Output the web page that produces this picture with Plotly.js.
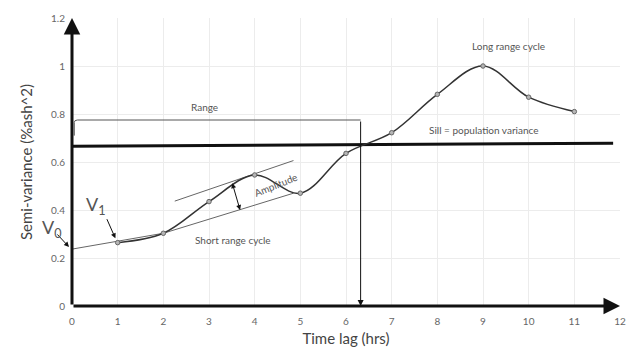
<!DOCTYPE html>
<html>
<head>
<meta charset="utf-8">
<script src="https://cdn.plot.ly/plotly-3.0.1.min.js"></script>
<style>html,body{margin:0;padding:0;background:#fff;}#chart{width:633px;height:357px;}</style>
</head>
<body>
<div id="chart"></div>
<script>
// Data
var timeLag = [1, 2, 3, 4, 5, 6, 7, 8, 9, 10, 11];
var semiVariance = [0.264, 0.303, 0.435, 0.546, 0.47, 0.636, 0.722, 0.882, 1.0, 0.87, 0.81];
var xTicks = [0, 1, 2, 3, 4, 5, 6, 7, 8, 9, 10, 11, 12];
var yTicks = [0, 0.2, 0.4, 0.6, 0.8, 1, 1.2];
var yTickLabels = ['0', '0.2', '0.4', '0.6', '0.8', '1', '1.2'];
var sillX = [0, 11.85];
var sillY = [0.666, 0.678];
var rangeLag = 6.32;
var shortCycleX = [0, 2, 4.85];
var shortCycleY = [0.237, 0.303, 0.47];
var upperEnvX = [2.25, 4.85];
var upperEnvY = [0.437, 0.606];

var FONT = 'Lato, "Open Sans", sans-serif';
var txt = '#555';

var traces = [
  {x: shortCycleX, y: shortCycleY, mode: 'lines', line: {color: '#666', width: 1}, hoverinfo: 'skip'},
  {x: upperEnvX, y: upperEnvY, mode: 'lines', line: {color: '#666', width: 1}, hoverinfo: 'skip'},
  {x: sillX, y: sillY, mode: 'lines', line: {color: '#111', width: 3}, hoverinfo: 'skip'},
  {x: timeLag, y: semiVariance, mode: 'lines+markers', line: {color: '#333', width: 1.5, shape: 'spline', smoothing: 1},
   marker: {symbol: 'circle', size: 4.5, color: '#b5b5b5', line: {color: '#666', width: 1}}}
];

var ann = [];
function arrow(x, y, ax, ay, w, size, side) {
  ann.push({x: x, y: y, ax: ax, ay: ay, xref: 'x', yref: 'y', axref: 'x', ayref: 'y', text: '',
    showarrow: true, arrowhead: 2, arrowwidth: w, arrowsize: size, arrowcolor: '#111', arrowside: side || 'end'});
}
function label(x, y, t, size, angle) {
  ann.push({x: x, y: y, xref: 'x', yref: 'y', text: t, showarrow: false,
    font: {family: FONT, size: size, color: txt}, textangle: angle || 0});
}
// axes with arrows
arrow(0, 1.2, 0, 0, 3, 1.1);
arrow(12, 0, 0, 0, 3, 1.1);
// range vertical line
arrow(rangeLag, 0, rangeLag, 0.775, 1, 1.2);
// amplitude double arrow
arrow(3.68, 0.40, 3.5, 0.518, 1, 1, 'end+start');
// V1 arrow
arrow(0.95, 0.282, 0.75, 0.368, 1, 1);
// V0 arrow (pixel offset tail, head just left of the y axis)
ann.push({x: 0, y: 0.246, xref: 'x', yref: 'y', xshift: -3, ax: -13, ay: -14, text: '', showarrow: true,
  arrowhead: 2, arrowwidth: 1, arrowsize: 1, arrowcolor: '#111'});

label(2.9, 0.83, 'Range', 10);
label(9.55, 1.085, 'Long range cycle', 10);
label(9.0, 0.735, 'Sill = population variance', 10);
label(3.53, 0.275, 'Short range cycle', 10);
label(4.45, 0.505, 'Amplitude', 10, -22);
label(0.53, 0.42, 'V<sub>1</sub>', 18);
ann.push({x: 0, y: 0.325, xref: 'x', yref: 'y', xshift: -20, text: 'V<sub>0</sub>', showarrow: false,
  font: {family: FONT, size: 18, color: txt}});

var layout = {
  width: 633, height: 357,
  margin: {l: 72, r: 13, t: 18, b: 51},
  paper_bgcolor: '#fff', plot_bgcolor: '#fff',
  showlegend: false,
  font: {family: FONT, color: txt},
  xaxis: {range: [0, 12], tickvals: xTicks, ticktext: xTicks.map(String), showgrid: true, gridcolor: '#ececec',
    zeroline: false, showline: false, ticks: '', tickfont: {size: 10, color: '#666'}, ticklabelstandoff: 8,
    title: {text: 'Time lag (hrs)', font: {size: 15, color: '#444'}, standoff: 7}},
  yaxis: {range: [0, 1.2], tickvals: yTicks, ticktext: yTickLabels, showgrid: true, gridcolor: '#ececec',
    zeroline: false, showline: false, ticks: '', tickfont: {size: 10, color: '#666'}, ticklabelstandoff: 6,
    title: {text: 'Semi-variance (%ash^2)', font: {size: 15, color: '#444'}, standoff: 14}},
  shapes: [
    {type: 'path', xref: 'x', yref: 'y', path: 'M 0.05 0.71 L 0.05 0.765 Q 0.05 0.775 0.12 0.775 L ' + rangeLag + ' 0.775',
     line: {color: '#555', width: 1}}
  ],
  annotations: ann
};

Plotly.newPlot('chart', traces, layout, {displayModeBar: false, staticPlot: true});
</script>
</body>
</html>
